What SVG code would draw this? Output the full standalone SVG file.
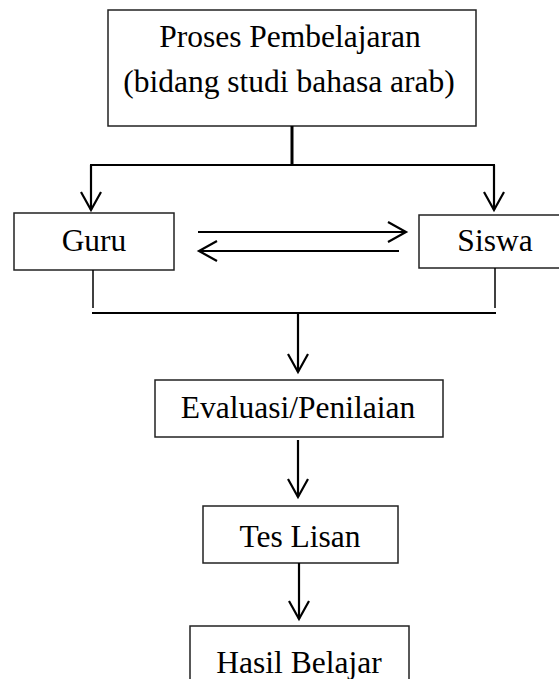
<svg xmlns="http://www.w3.org/2000/svg" width="559" height="679" viewBox="0 0 559 679">
<defs>
<marker id="v" viewBox="-20 -12 23 24" refX="0" refY="0" markerWidth="23" markerHeight="24" markerUnits="userSpaceOnUse" orient="auto">
<path d="M-18,-10 L0,0 L-18,10" fill="none" stroke="#000" stroke-width="2.2"/>
</marker>
<style>
.box{fill:#fff;stroke:#222;stroke-width:1.5}
.t{font-family:"Liberation Serif","Times New Roman",serif;font-size:31.5px;fill:#000;text-anchor:middle}
.c{stroke:#000;stroke-width:2.2;fill:none}
.a{stroke:#000;stroke-width:2.2;fill:none;marker-end:url(#v)}
</style>
</defs>
<rect width="559" height="679" fill="#fff"/>
<g id="proses">
<rect class="box" x="108" y="10" width="368" height="116"/>
<text class="t" x="290" y="47">Proses Pembelajaran</text>
<text class="t" x="289" y="92">(bidang studi bahasa arab)</text>
</g>
<g id="guru">
<rect class="box" x="14" y="213" width="160" height="57"/>
<text class="t" x="94" y="251">Guru</text>
</g>
<g id="siswa">
<rect class="box" x="419" y="215" width="152" height="53"/>
<text class="t" x="495" y="251">Siswa</text>
</g>
<g id="evaluasi">
<rect class="box" x="155" y="380" width="288" height="57"/>
<text class="t" x="298" y="418">Evaluasi/Penilaian</text>
</g>
<g id="tes">
<rect class="box" x="203" y="506" width="195" height="57"/>
<text class="t" x="300" y="547">Tes Lisan</text>
</g>
<g id="hasil">
<rect class="box" x="190" y="626" width="219" height="70"/>
<text class="t" x="299" y="673">Hasil Belajar</text>
</g>
<g id="connectors">
<line class="c" x1="292" y1="126" x2="292" y2="165" style="stroke-width:3"/>
<line class="c" x1="90" y1="165" x2="495" y2="165"/>
<line class="a" x1="91" y1="165" x2="91" y2="210"/>
<line class="a" x1="494" y1="165" x2="494" y2="210"/>
<line class="a" x1="198" y1="232" x2="406" y2="232"/>
<line class="a" x1="399" y1="251" x2="199" y2="251"/>
<line class="c" x1="93" y1="270" x2="93" y2="308" style="stroke-width:1.5"/>
<line class="c" x1="495" y1="268" x2="495" y2="308" style="stroke-width:1.5"/>
<line class="c" x1="92" y1="313" x2="496" y2="313"/>
<line class="a" x1="298" y1="313" x2="298" y2="372"/>
<line class="a" x1="298" y1="440" x2="298" y2="497"/>
<line class="a" x1="299" y1="563" x2="299" y2="619"/>
</g>
</svg>
